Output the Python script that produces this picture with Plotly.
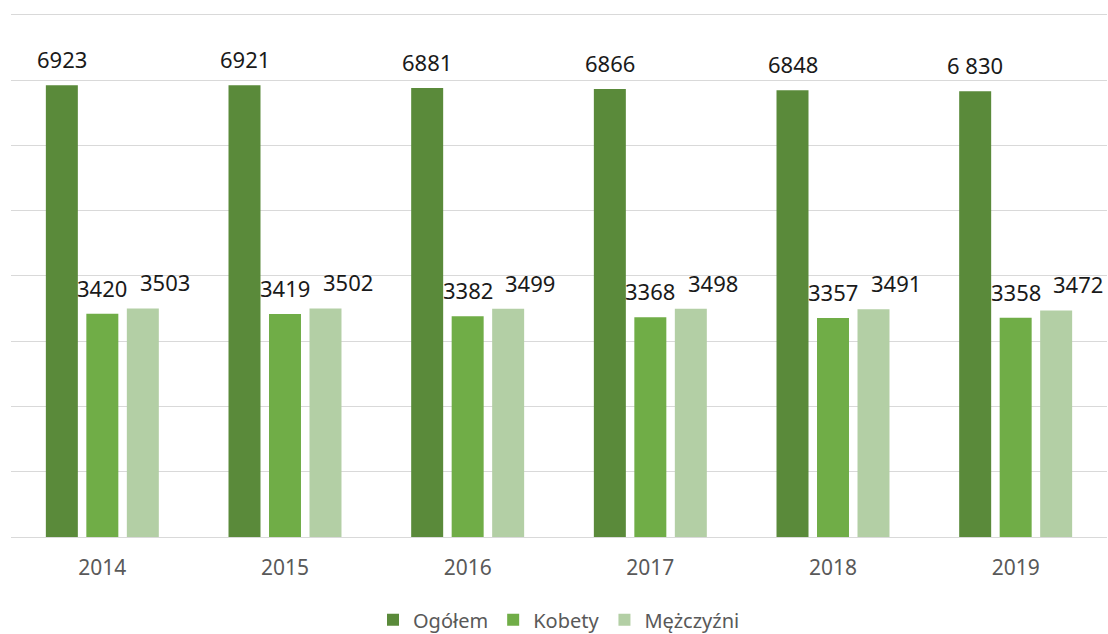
import plotly.graph_objects as go

years = ["2014", "2015", "2016", "2017", "2018", "2019"]
ogolem = [6923, 6921, 6881, 6866, 6848, 6830]
kobiety = [3420, 3419, 3382, 3368, 3357, 3358]
mezczyzni = [3503, 3502, 3499, 3498, 3491, 3472]
ogolem_labels = ["6923", "6921", "6881", "6866", "6848", "6 830"]
kobiety_labels = [str(v) for v in kobiety]
mezczyzni_labels = [str(v) for v in mezczyzni]

series = [
    ("Ogółem", ogolem, ogolem_labels, "#5a8a3a", -40.5),
    ("Kobety", kobiety, kobiety_labels, "#70ad47", 0),
    ("Mężczyźni", mezczyzni, mezczyzni_labels, "#b3cfa5", 40.5 + 22),
]

fig = go.Figure()
annotations = []
for name, vals, labels, color, xs in series:
    fig.add_trace(go.Bar(
        name=name, x=years, y=vals,
        marker=dict(color=color, line=dict(width=0)),
    ))
    for i, (v, lab) in enumerate(zip(vals, labels)):
        annotations.append(dict(
            x=i, y=v, xref="x", yref="y", text=lab, showarrow=False,
            xshift=xs, yshift=26, yanchor="middle", xanchor="center",
            font=dict(family="Noto Sans, Open Sans, sans-serif", size=22, color="#1a1a1a"),
        ))

fig.update_layout(
    width=1108, height=634,
    margin=dict(l=11, r=1, t=13, b=97, autoexpand=False),
    paper_bgcolor="white", plot_bgcolor="white",
    barmode="group", bargap=0.335, bargroupgap=0.21,
    annotations=annotations,
    showlegend=True,
    legend=dict(
        orientation="h", x=0.5, xanchor="center", y=-0.158, yanchor="middle",
        font=dict(family="Noto Sans, Open Sans, sans-serif", size=20, color="#595959"),
        traceorder="normal",
    ),
    xaxis=dict(
        type="category", range=[-0.5, len(years) - 0.5],
        showgrid=False, showline=True, linecolor="#d9d9d9", linewidth=1,
        ticks="outside", ticklen=12, tickcolor="rgba(0,0,0,0)",
        tickfont=dict(family="Noto Sans, Open Sans, sans-serif", size=21, color="#595959"),
    ),
    yaxis=dict(
        range=[0, 8030], tick0=0, dtick=1000, showgrid=True, gridcolor="#d9d9d9", gridwidth=1,
        showticklabels=False, zeroline=False, showline=False, ticks="",
    ),
)

fig.write_html("out.html", config={"displayModeBar": False},
               post_script="document.body.style.margin='0';")
